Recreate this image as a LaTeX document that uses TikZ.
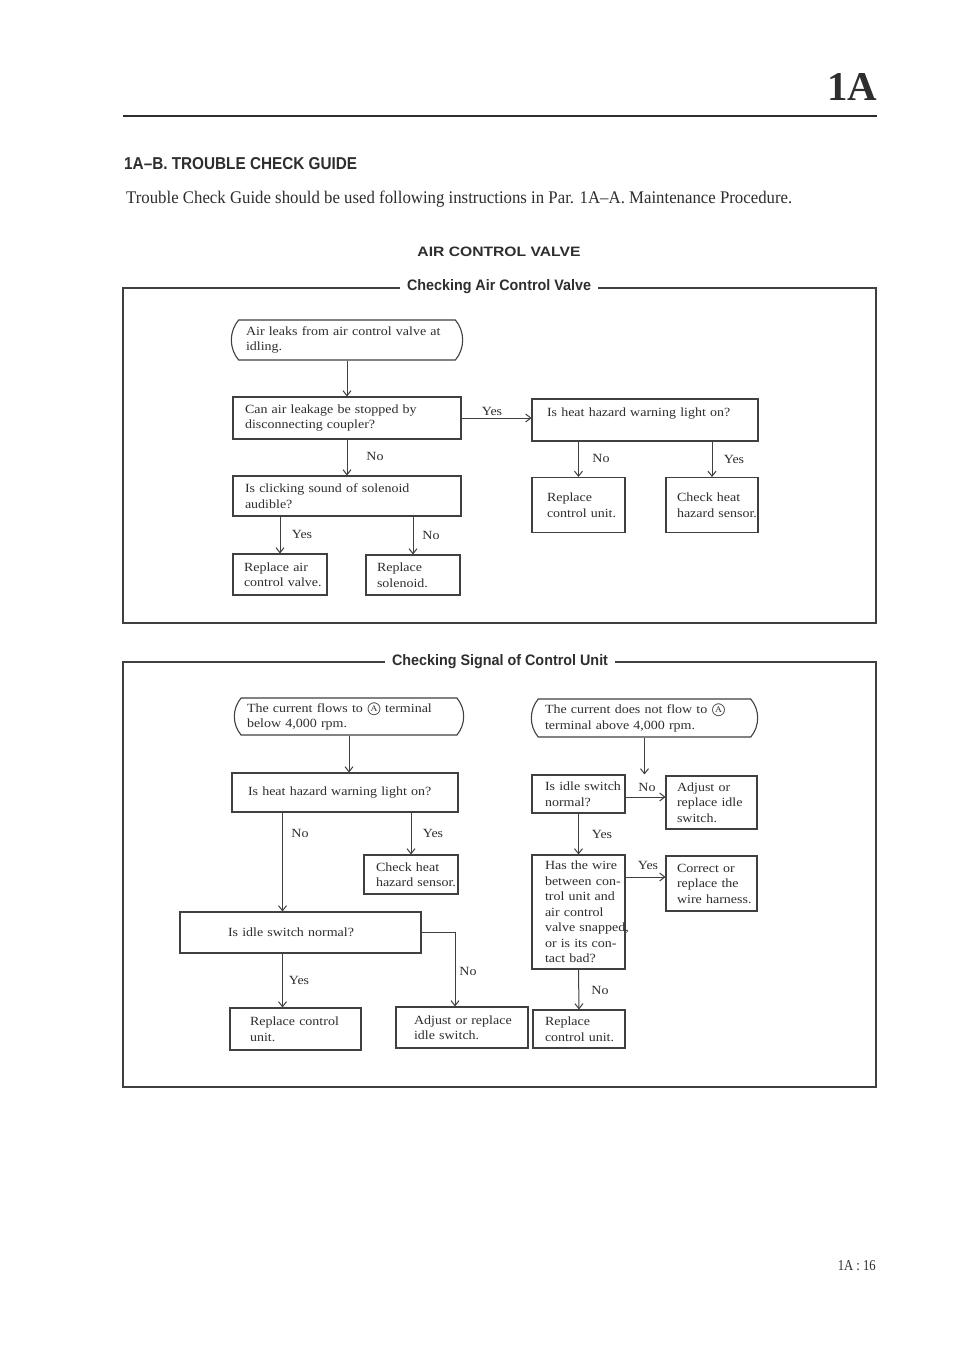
\documentclass[tikz,border=0pt]{standalone}
\usepackage{fontspec}
\setmainfont{Liberation Serif}[FakeStretch=1.12]
\newfontfamily\hdfont{Liberation Sans}
\newfontfamily\symfont{DejaVu Sans}
\usepackage{graphicx}
\usetikzlibrary{arrows.meta,shapes.misc}
\hyphenpenalty=10000
\exhyphenpenalty=10000
\definecolor{ink}{HTML}{2E2E2E}
\definecolor{lin}{HTML}{404040}
\newcommand{\cA}{\mbox{\ooalign{\hfil{\symfont\fontsize{12.5}{12.5}\selectfont ◯}\hfil\crcr\hfil\raisebox{1.2pt}{\fontsize{8.5}{8.5}\selectfont A}\hfil\crcr}}}
\newcommand{\mb}[1]{\mbox{#1}}
\tikzset{
  bx/.style={draw=lin, line width=1.1pt, align=left, inner ysep=2pt, text=ink,
    font=\fontsize{12.5}{15.5}\selectfont},
  startbox/.style={bx, rounded rectangle, rounded rectangle arc length=80},
  arr/.style={draw=lin, line width=1pt, -{Straight Barb[length=5pt,width=8pt]}},
  lbl/.style={text=ink, inner sep=0pt, font=\fontsize{12.5}{15.5}\selectfont},
  panel/.style={draw=lin, line width=1.8pt},
  ptitle/.style={fill=white, inner xsep=7pt, inner ysep=2pt, anchor=base, text=ink}
}
\begin{document}
\begin{tikzpicture}[x=1pt,y=-1pt]
\fill[white] (0,0) rectangle (960,1355);
\useasboundingbox (0,0) rectangle (960,1355);

% ---------- header ----------
\node[anchor=base, inner sep=0pt, text=ink] (hA) at (852,100) {\resizebox{50pt}{27pt}{\bfseries 1A}};
\coordinate (rl) at (123,116);
\coordinate (rr) at (877,116);
\draw[draw=ink, line width=2.4pt] (rl) -- (rr);
\node[anchor=base west, inner sep=0pt, text=ink] (h1) at (124,169) {\resizebox{233pt}{12pt}{\hdfont\bfseries 1A–B. TROUBLE CHECK GUIDE}};
\node[anchor=base west, inner sep=0pt, text=ink] (h2) at (126,203) {\resizebox{666pt}{12.5pt}{Trouble Check Guide should be used following instructions in Par. 1A–A. Maintenance Procedure.}};
\node[anchor=base, inner sep=0pt, text=ink] (h3) at (499,256) {\resizebox{163pt}{9.5pt}{\hdfont\bfseries AIR CONTROL VALVE}};

% ---------- panel 1 ----------
\draw[panel] (123,288) rectangle (876,623);
\node[ptitle] (t1) at (499,290) {\resizebox{184pt}{11pt}{\hdfont\bfseries Checking Air Control Valve}};

\node[startbox, minimum width=238pt, minimum height=40pt, text width=202pt] (s1) at (347,340)
  {\mb{Air leaks from air control valve at}\\\mb{idling.}};
\node[bx, minimum width=228pt, minimum height=42pt, inner xsep=12pt, text width=204pt] (b1) at (347,418)
  {\mb{Can air leakage be stopped by}\\\mb{disconnecting coupler?}};
\node[bx, minimum width=228pt, minimum height=40pt, inner xsep=12pt, text width=204pt] (b2) at (347,496)
  {\mb{Is clicking sound of solenoid}\\\mb{audible?}};
\node[bx, minimum width=94pt, minimum height=41pt, inner xsep=11pt, text width=72pt] (b3) at (280,574.5)
  {\mb{Replace air}\\\mb{control valve.}};
\node[bx, minimum width=94pt, minimum height=40pt, inner xsep=11pt, text width=72pt] (b4) at (413,575)
  {\mb{Replace}\\\mb{solenoid.}};
\node[bx, minimum width=226pt, minimum height=42pt, inner xsep=15pt, text width=196pt] (b5) at (645,420)
  {\mb{Is heat hazard warning light on?}\\\mbox{}};
\node[bx, minimum width=93pt, minimum height=55pt, inner xsep=15pt, text width=63pt] (b6) at (578.5,505)
  {\mb{Replace}\\\mb{control unit.}};
\node[bx, minimum width=92pt, minimum height=55pt, inner xsep=11pt, text width=70pt] (b7) at (712,505)
  {\mb{Check heat}\\\mb{hazard sensor.}};

\draw[arr] (s1.south) -- (b1.north);
\draw[arr] (b1.south) -- (b2.north);
\draw[arr] (b1.east) -- (b1.east -| b5.west);
\draw[arr] (b3.north |- b2.south) -- (b3.north);
\draw[arr] (b4.north |- b2.south) -- (b4.north);
\draw[arr] (b6.north |- b5.south) -- (b6.north);
\draw[arr] (b7.north |- b5.south) -- (b7.north);

\node[lbl] (l1) at (492,411) {Yes};
\node[lbl] (l2) at (375,456) {No};
\node[lbl] (l3) at (302,534) {Yes};
\node[lbl] (l4) at (431,535) {No};
\node[lbl] (l5) at (601,458) {No};
\node[lbl] (l6) at (734,459) {Yes};

% ---------- panel 2 ----------
\draw[panel] (123,662) rectangle (876,1087);
\node[ptitle] (t2) at (500,665) {\resizebox{216pt}{11pt}{\hdfont\bfseries Checking Signal of Control Unit}};

\node[startbox, minimum width=236pt, minimum height=37pt, text width=204pt] (s2) at (349,716.5)
  {\mb{The current flows to \cA\ terminal}\\\mb{below 4,000 rpm.}};
\node[bx, minimum width=226pt, minimum height=39pt, inner xsep=16pt, text width=194pt] (c1) at (345,792.5)
  {\mb{Is heat hazard warning light on?}};
\node[bx, minimum width=94pt, minimum height=39pt, inner xsep=12pt, text width=70pt] (c2) at (411,874.5)
  {\mb{Check heat}\\\mb{hazard sensor.}};
\node[bx, minimum width=241pt, minimum height=41pt, inner xsep=48pt, text width=145pt] (c3) at (300.5,932.5)
  {\mb{Is idle switch normal?}};
\node[bx, minimum width=131pt, minimum height=42pt, inner xsep=20pt, text width=91pt] (c4) at (295.5,1029)
  {\mb{Replace control}\\\mb{unit.}};
\node[bx, minimum width=132pt, minimum height=41pt, inner xsep=18pt, text width=96pt] (c5) at (462,1027.5)
  {\mb{Adjust or replace}\\\mb{idle switch.}};

\node[startbox, minimum width=233pt, minimum height=38pt, text width=199pt] (s3) at (644.5,718)
  {\mb{The current does not flow to \cA}\\\mb{terminal above 4,000 rpm.}};
\node[bx, minimum width=93pt, minimum height=38pt, inner xsep=13pt, text width=67pt] (d1) at (578.5,794)
  {\mb{Is idle switch}\\\mb{normal?}};
\node[bx, minimum width=91pt, minimum height=53pt, inner xsep=11pt, text width=69pt] (d2) at (711.5,802.5)
  {\mb{Adjust or}\\\mb{replace idle}\\\mb{switch.}};
\node[bx, minimum width=93pt, minimum height=114pt, inner xsep=13pt, text width=67pt] (d3) at (578.5,912)
  {\mb{Has the wire}\\\mb{between con-}\\\mb{trol unit and}\\\mb{air control}\\\mb{valve snapped,}\\\mb{or is its con-}\\\mb{tact bad?}};
\node[bx, minimum width=91pt, minimum height=55pt, inner xsep=11pt, text width=69pt] (d4) at (711.5,883.5)
  {\mb{Correct or}\\\mb{replace the}\\\mb{wire harness.}};
\node[bx, minimum width=92pt, minimum height=38pt, inner xsep=12pt, text width=68pt] (d5) at (579,1029)
  {\mb{Replace}\\\mb{control unit.}};

\coordinate (xL) at (282.5,0);
\coordinate (xN) at (455,0);
\coordinate (yN) at (0,797);
\coordinate (yY) at (0,877);

\draw[arr] (s2.south) -- (s2.south |- c1.north);
\draw[arr] (c1.south -| xL) -- (c3.north -| xL);
\draw[arr] (c2.north |- c1.south) -- (c2.north);
\draw[arr] (c3.south -| xL) -- (c4.north -| xL);
\draw[arr] (c3.east) -| (c5.north -| xN);
\draw[arr] (s3.south) -- (s3.south |- d1.north);
\draw[arr] (d1.east |- yN) -- (d2.west |- yN);
\draw[arr] (d1.south) -- (d3.north);
\draw[arr] (d3.east |- yY) -- (d4.west |- yY);
\draw[arr] (d3.south) -- (d5.north);

\node[lbl] (m1) at (300,833) {No};
\node[lbl] (m2) at (433,833) {Yes};
\node[lbl] (m3) at (299,980) {Yes};
\node[lbl] (m4) at (468,971) {No};
\node[lbl] (m5) at (647,787) {No};
\node[lbl] (m6) at (602,834) {Yes};
\node[lbl] (m7) at (648,865) {Yes};
\node[lbl] (m8) at (600,990) {No};

% ---------- footer ----------
\node[anchor=base east, inner sep=0pt, text=ink] (ft) at (876,1270) {\resizebox{38pt}{10pt}{1A : 16}};
\end{tikzpicture}
\end{document}
